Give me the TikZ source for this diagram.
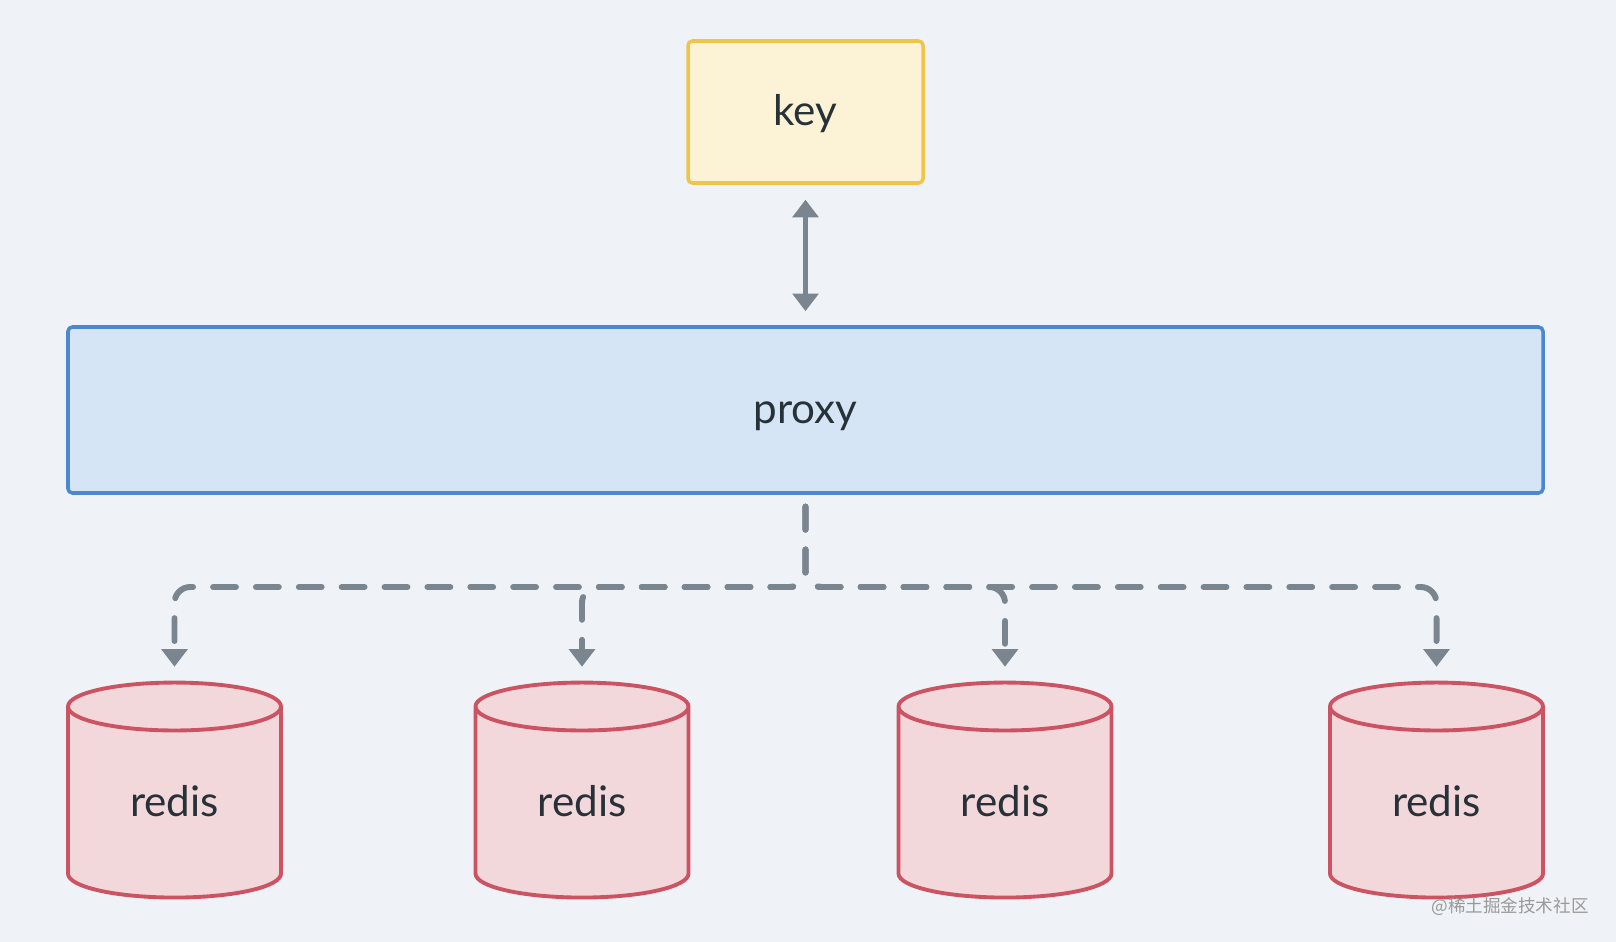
\documentclass[tikz,border=0pt]{standalone}
\usepackage{fontspec}
\setmainfont{Lato}
\newfontfamily\cjkfont{Noto Sans CJK SC}
\usetikzlibrary{shapes.geometric,arrows.meta}
\definecolor{bgcol}{HTML}{EFF3F7}
\definecolor{keyfill}{HTML}{FCF3D6}
\definecolor{keyline}{HTML}{EEC44C}
\definecolor{proxyfill}{HTML}{D6E5F5}
\definecolor{proxyline}{HTML}{4A89D2}
\definecolor{redisfill}{HTML}{F2D7DB}
\definecolor{redisline}{HTML}{CC5462}
\definecolor{arrowcol}{HTML}{7A858F}
\definecolor{textcol}{HTML}{263238}
\begin{document}
\begin{tikzpicture}[x=0.02cm,y=-0.02cm,
  every node/.style={font=\fontsize{24}{28}\selectfont,text=textcol,text height=15pt,text depth=0pt},
  keybox/.style={draw=keyline,fill=keyfill,line width=2pt,rounded corners=2.5pt,minimum width=235*0.02cm,minimum height=142*0.02cm},
  proxybox/.style={draw=proxyline,fill=proxyfill,line width=2pt,rounded corners=2.5pt,minimum width=1475*0.02cm,minimum height=166*0.02cm},
  redisdb/.style={cylinder,shape border rotate=90,draw=redisline,fill=redisfill,line width=2.2pt,aspect=0.54,minimum width=213*0.02cm,minimum height=215*0.02cm,inner sep=0pt},
  twoway/.style={draw=arrowcol,line width=3pt,{Triangle[width=14.5pt,length=10pt]}-{Triangle[width=14.5pt,length=10pt]},shorten <=8.5pt,shorten >=8pt},
  flow/.style={draw=arrowcol,line width=3.4pt,line cap=round,dash pattern=on 13pt off 11.4pt,rounded corners=9pt,-{Triangle[width=14.5pt,length=10pt]},shorten <=6.8pt,shorten >=7.9pt}]
  \fill[bgcol] (0,0) rectangle (1616,942);
  \node[keybox] (key) at (805.5,112) {key};
  \node[proxybox] (proxy) at (805.5,410) {proxy};
  \node[redisdb] (r1) at (174.5,803) {redis};
  \node[redisdb] (r2) at (582,803) {redis};
  \node[redisdb] (r3) at (1005,803) {redis};
  \node[redisdb] (r4) at (1436.5,803) {redis};
  \coordinate (split) at (805.5,587);
  \draw[twoway] (key) -- (proxy);
  \foreach \r in {r1,r2,r3,r4}
    \draw[flow] (proxy.south) -- (split) -| (\r.north);
  \node[font=\cjkfont\fontsize{10}{12}\selectfont,text=black!40,text height=,text depth=] (mark) at (1510,907) {@稀土掘金技术社区};
\end{tikzpicture}
\end{document}
